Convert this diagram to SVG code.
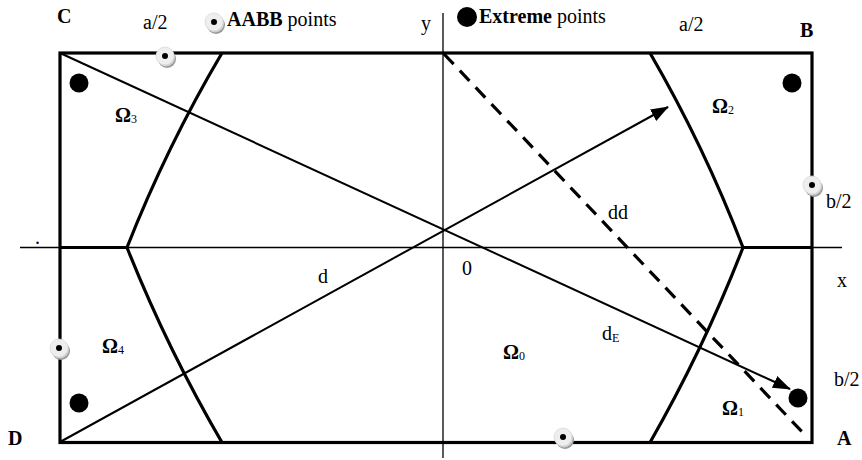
<svg xmlns="http://www.w3.org/2000/svg" width="862" height="460" viewBox="0 0 862 460">
<defs>
<style>
text{font-family:"Liberation Serif","Times New Roman",serif;font-size:20px;fill:#000}
.b{font-weight:bold}
.sub{font-size:12px;font-weight:normal}
.thin{stroke:#000;stroke-width:1.3;fill:none}
.diag{stroke:#000;stroke-width:2;fill:none}
.thick{stroke:#000;stroke-width:3.2;fill:none}
.ext{fill:#000}
</style>
<marker id="ah" markerWidth="9" markerHeight="6.5" refX="8.5" refY="3.25" orient="auto" markerUnits="strokeWidth">
<path d="M0,0 L9,3.25 L0,6.5 Z" fill="#000"/>
</marker>
<g id="aabb">
<circle cx="2" cy="3" r="9" fill="#9a9a9a"/>
<circle cx="1" cy="1.5" r="9" fill="#cfcfcf"/>
<circle cx="0" cy="0" r="9" fill="#eeeeee" stroke="#d8d8d8" stroke-width="0.8"/>
<circle cx="0" cy="0" r="3" fill="#000"/>
</g>
</defs>
<rect width="862" height="460" fill="#fff"/>

<g id="axes">
<line class="thin" x1="20" y1="247.5" x2="842" y2="247.5"/>
<line class="thin" x1="443" y1="13" x2="443" y2="458"/>
<line class="thick" x1="60" y1="247.5" x2="127" y2="247.5"/>
<line class="thick" x1="743" y1="247.5" x2="812" y2="247.5"/>
</g>

<g id="rectangle">
<rect class="thick" x="60" y="53" width="752" height="389.5" stroke-width="3.5"/>
</g>

<g id="regions">
<path class="thick" d="M222,53 Q167,146 127,247.5 Q167,348 222,442.5"/>
<path class="thick" d="M650,53 Q704,146 743,247.5 Q704,348 650,442.5"/>
</g>

<g id="connectors">
<line class="diag" x1="60" y1="53" x2="790" y2="389" marker-end="url(#ah)"/>
<line class="diag" x1="60" y1="442" x2="668" y2="107" marker-end="url(#ah)"/>
<line stroke="#000" stroke-width="3.2" stroke-dasharray="14,9" x1="444" y1="54" x2="806" y2="436"/>
</g>

<g id="extreme-points">
<circle class="ext" cx="79" cy="83" r="9.5"/>
<circle class="ext" cx="792" cy="83" r="9.5"/>
<circle class="ext" cx="79" cy="403" r="9.5"/>
<circle class="ext" cx="798" cy="398" r="9.5"/>
</g>

<g id="aabb-points">
<use href="#aabb" x="165" y="56"/>
<use href="#aabb" x="59" y="348"/>
<use href="#aabb" x="563" y="437"/>
<use href="#aabb" x="812" y="185"/>
</g>

<g id="legend">
<use href="#aabb" x="214" y="22"/>
<text x="227" y="26"><tspan class="b">AABB</tspan> points</text>
<circle class="ext" cx="467" cy="17" r="10"/>
<text x="479" y="23"><tspan class="b">Extreme</tspan> points</text>
</g>

<g id="labels">
<text class="b" x="57" y="23">C</text>
<text class="b" x="800" y="37">B</text>
<text class="b" x="8" y="445">D</text>
<text class="b" x="837" y="445">A</text>
<text x="143" y="29">a/2</text>
<text x="679" y="31">a/2</text>
<text x="421" y="30">y</text>
<text x="837" y="287">x</text>
<text x="462" y="275">0</text>
<text x="35" y="244">.</text>
<text x="826" y="208">b/2</text>
<text x="834" y="386">b/2</text>
<text x="318" y="283">d</text>
<text x="608" y="219">dd</text>
<text x="602" y="340">d<tspan class="sub" dy="2">E</tspan></text>
<text class="b" x="115" y="122">Ω<tspan class="sub" dy="1">3</tspan></text>
<text class="b" x="712" y="113">Ω<tspan class="sub" dy="1">2</tspan></text>
<text class="b" x="102" y="353">Ω<tspan class="sub" dy="1">4</tspan></text>
<text class="b" x="503" y="359">Ω<tspan class="sub" dy="1">0</tspan></text>
<text class="b" x="722" y="415">Ω<tspan class="sub" dy="1">1</tspan></text>
</g>
</svg>
